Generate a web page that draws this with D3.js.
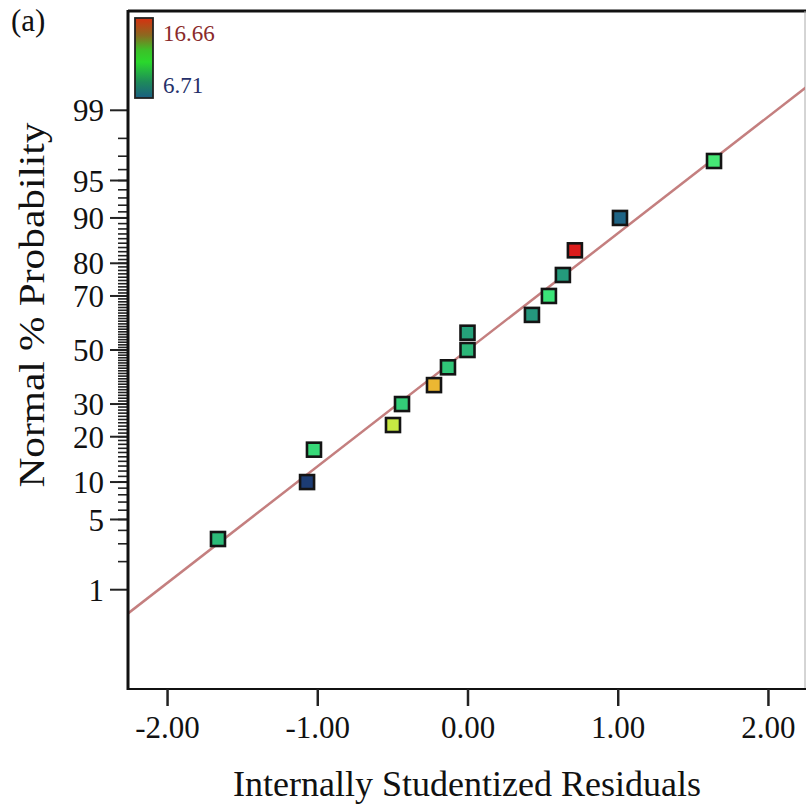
<!DOCTYPE html>
<html><head><meta charset="utf-8">
<script src="https://cdn.jsdelivr.net/npm/d3@7"></script>
<style>body{margin:0;background:#fff}svg{display:block}text{font-family:"Liberation Serif","Times New Roman",serif}</style>
</head><body><svg id="c" width="806" height="809"></svg>
<script>
// ---- data ----
const residuals = [-1.661, -1.068, -1.022, -0.496, -0.436, -0.223, -0.130, 0.000, 0.000, 0.429, 0.542, 0.635, 0.715, 1.015, 1.641];
const probabilities = [3.33, 10, 16.67, 23.33, 30, 36.67, 43.33, 50, 56.67, 63.33, 70, 76.67, 83.33, 90, 96.67];
const responses = [10.5, 6.9, 11.3, 13.3, 11.0, 14.8, 10.8, 10.4, 9.8, 9.5, 11.6, 9.6, 16.66, 8.0, 11.8];
const colorMin = 6.71, colorMax = 16.66;
const majorProbTicks = [1, 5, 10, 20, 30, 50, 70, 80, 90, 95, 99];
const minorProbTicks = [2, 3, 4].concat(d3.range(5, 96, 1)).concat([96, 97, 98]);
const xTicks = [-2, -1, 0, 1, 2];
const fitMean = 0.0, fitSd = 0.884;
const xDomain = [-2.26, 2.26];
const zDomain = [-3.29, 3.29];

function qnorm(p){
  const a=[-3.969683028665376e+01,2.209460984245205e+02,-2.759285104469687e+02,1.383577518672690e+02,-3.066479806614716e+01,2.506628277459239e+00];
  const b=[-5.447609879822406e+01,1.615858368580409e+02,-1.556989798598866e+02,6.680131188771972e+01,-1.328068155288572e+01];
  const c=[-7.784894002430293e-03,-3.223964580411365e-01,-2.400758277161838e+00,-2.549732539343734e+00,4.374664141464968e+00,2.938163982698783e+00];
  const d=[7.784695709041462e-03,3.224671290700398e-01,2.445134137142996e+00,3.754408661907416e+00];
  const pl=0.02425, ph=1-pl; let q,r;
  if(p<pl){q=Math.sqrt(-2*Math.log(p));return (((((c[0]*q+c[1])*q+c[2])*q+c[3])*q+c[4])*q+c[5])/((((d[0]*q+d[1])*q+d[2])*q+d[3])*q+1);}
  if(p<=ph){q=p-0.5;r=q*q;return (((((a[0]*r+a[1])*r+a[2])*r+a[3])*r+a[4])*r+a[5])*q/(((((b[0]*r+b[1])*r+b[2])*r+b[3])*r+b[4])*r+1);}
  q=Math.sqrt(-2*Math.log(1-p));return -(((((c[0]*q+c[1])*q+c[2])*q+c[3])*q+c[4])*q+c[5])/((((d[0]*q+d[1])*q+d[2])*q+d[3])*q+1);
}

const svg = d3.select("#c");
const L = 128, R = 807, T = 11, B = 689;
const x = d3.scaleLinear().domain(xDomain).range([L, R]);
const y = d3.scaleLinear().domain(zDomain).range([B, T]);
const yp = p => y(qnorm(p / 100));
const color = d3.scaleLinear()
  .domain([colorMin, 8.3, 10, 11.7, 13.4, 15, colorMax])
  .range(["#1c3570", "#1f6f8a", "#26a878", "#3ce878", "#d0e840", "#f0b030", "#dc1c1c"]);
const legendStops = [[0, "#1a5f82"], [0.2, "#1e8a5a"], [0.45, "#2ad82c"], [0.6, "#3cc028"], [0.78, "#8a6a20"], [1, "#d83010"]];

// frame
svg.append("line").attr("x1", L).attr("x2", 806).attr("y1", T).attr("y2", T).attr("stroke", "#111").attr("stroke-width", 3);
svg.append("line").attr("x1", 805).attr("x2", 805).attr("y1", T).attr("y2", B).attr("stroke", "#aaa").attr("stroke-width", 1);

// clip
svg.append("clipPath").attr("id", "clip").append("rect").attr("x", L).attr("y", T).attr("width", 805 - L).attr("height", B - T);

// fit line
const lineZ = r => (r - fitMean) / fitSd;
svg.append("line").attr("clip-path", "url(#clip)")
  .attr("x1", x(xDomain[0])).attr("y1", y(lineZ(xDomain[0])))
  .attr("x2", x(xDomain[1])).attr("y2", y(lineZ(xDomain[1])))
  .attr("stroke", "#c47f7f").attr("stroke-width", 2.5);

// y axis
const gy = svg.append("g");
gy.selectAll("line.minor").data(minorProbTicks).join("line")
  .attr("x1", L - 10).attr("x2", L).attr("y1", d => yp(d)).attr("y2", d => yp(d))
  .attr("stroke", "#222").attr("stroke-width", 1.6);
gy.selectAll("line.major").data(majorProbTicks).join("line")
  .attr("x1", L - 18).attr("x2", L).attr("y1", d => yp(d)).attr("y2", d => yp(d))
  .attr("stroke", "#222").attr("stroke-width", 2);
gy.selectAll("text").data(majorProbTicks).join("text")
  .attr("x", L - 24).attr("y", d => yp(d)).attr("dy", "0.36em")
  .attr("text-anchor", "end").attr("font-size", 31).attr("fill", "#111")
  .text(d => d);
svg.append("line").attr("x1", L).attr("x2", L).attr("y1", T - 1).attr("y2", B + 1).attr("stroke", "#111").attr("stroke-width", 3);

// x axis
const xAxis = d3.axisBottom(x).tickValues(xTicks).tickSize(17).tickPadding(10)
  .tickFormat(d => d3.format(".2f")(d).replace("\u2212", "-"));
const gx = svg.append("g").attr("transform", `translate(0,${B})`).call(xAxis);
gx.select(".domain").attr("stroke", "#111").attr("stroke-width", 2).attr("d", `M${L},0H806`);
gx.selectAll(".tick line").attr("stroke", "#222").attr("stroke-width", 2.5);
gx.selectAll(".tick text").attr("font-size", 31).attr("fill", "#111")
  .attr("font-family", "Liberation Serif, Times New Roman, serif");

// points
svg.append("g").selectAll("rect").data(residuals.map((r, i) => ({r, p: probabilities[i], v: responses[i]})))
  .join("rect")
  .attr("x", d => x(d.r) - 7).attr("y", d => yp(d.p) - 7)
  .attr("width", 14).attr("height", 14)
  .attr("fill", d => color(d.v)).attr("stroke", "#141414").attr("stroke-width", 2.6);

// color legend
const defs = svg.append("defs");
const grad = defs.append("linearGradient").attr("id", "g").attr("x1", 0).attr("x2", 0).attr("y1", 1).attr("y2", 0);
legendStops.forEach(([t, c]) => grad.append("stop").attr("offset", t).attr("stop-color", c));
svg.append("rect").attr("x", 135).attr("y", 18).attr("width", 18).attr("height", 80)
  .attr("fill", "url(#g)").attr("stroke", "#222").attr("stroke-width", 1.8);
svg.append("text").attr("x", 163).attr("y", 41).attr("font-size", 23).attr("fill", "#8a2a2a").text(colorMax.toFixed(2));
svg.append("text").attr("x", 163).attr("y", 93).attr("font-size", 23).attr("fill", "#26306a").text(colorMin.toFixed(2));

// labels
svg.append("text").attr("x", 11).attr("y", 31).attr("font-size", 31).attr("fill", "#111").text("(a)");
svg.append("text").attr("x", 467).attr("y", 796).attr("text-anchor", "middle").attr("font-size", 36).attr("fill", "#111")
  .text("Internally Studentized Residuals");
svg.append("text").attr("transform", "translate(44,305) rotate(-90)").attr("text-anchor", "middle")
  .attr("font-size", 36).attr("fill", "#111")
  .attr("textLength", 365).attr("lengthAdjust", "spacingAndGlyphs")
  .text("Normal % Probability");
</script></body></html>
